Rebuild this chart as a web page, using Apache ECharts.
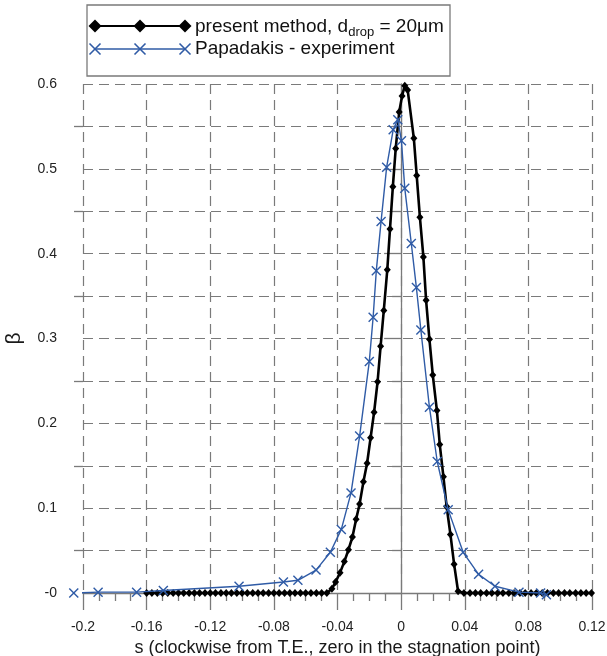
<!DOCTYPE html>
<html><head><meta charset="utf-8">
<script src="https://cdn.jsdelivr.net/npm/echarts@6/dist/echarts.min.js"></script>
<style>html,body{margin:0;padding:0;background:#fff}#c{width:607px;height:656px}</style>
</head><body><div id="c"></div>
<script>
// ---- data ----
const presentS = [-0.160,-0.1567,-0.1533,-0.150,-0.1467,-0.1433,-0.140,-0.1367,-0.1333,-0.130,-0.1267,-0.1233,-0.120,-0.1167,-0.1133,-0.110,-0.1067,-0.1033,-0.100,-0.0967,-0.0933,-0.090,-0.0867,-0.0833,-0.080,-0.0767,-0.0733,-0.070,-0.0667,-0.0633,-0.060,-0.0567,-0.0533,-0.050,-0.0467,
 -0.0435,-0.0412,-0.0384,-0.0357,-0.0331,-0.0306,-0.0283,-0.0261,-0.0237,-0.0214,-0.0192,-0.0170,-0.0148,-0.0129,-0.0109,-0.0087,-0.0070,-0.0052,-0.0034,-0.0012,0.0006,0.0023,0.0041,
 0.0080,0.0098,0.0118,0.0140,0.0157,0.0178,0.0199,0.0225,0.0243,0.0266,0.0286,0.0310,0.0333,0.0358,
 0.0395,0.0433,0.0467,0.050,0.0537,0.057,0.0607,0.064,0.0677,0.071,0.0747,0.078,0.0817,0.085,0.0887,0.092,0.0957,0.099,0.1027,0.106,0.1097,0.113,0.1163,0.1197];
const presentBeta = [0,0,0,0,0,0,0,0,0,0,0,0,0,0,0,0,0,0,0,0,0,0,0,0,0,0,0,0,0,0,0,0,0,0,0,
 0.005,0.013,0.024,0.037,0.051,0.066,0.087,0.105,0.131,0.153,0.183,0.213,0.249,0.291,0.333,0.381,0.429,0.479,0.524,0.567,0.586,0.598,0.593,
 0.536,0.492,0.443,0.396,0.345,0.299,0.257,0.215,0.175,0.137,0.102,0.069,0.034,0.002,
 0,0,0,0,0,0,0,0,0,0,0,0,0,0,0,0,0,0,0,0,0,0,0,0];
const papS = [-0.2058,-0.1905,-0.1663,-0.1495,-0.1019,-0.0740,-0.0649,-0.0535,-0.0445,-0.0376,-0.0315,-0.0261,-0.0200,-0.0176,-0.0156,-0.0126,-0.0091,-0.0050,-0.0021,0.0002,0.0023,0.0064,0.0096,0.0124,0.0178,0.0227,0.0296,0.0390,0.0487,0.0590,0.0741,0.0877,0.0913];
const papBeta = [0.000,0.001,0.001,0.003,0.008,0.013,0.015,0.027,0.048,0.075,0.118,0.185,0.273,0.325,0.380,0.438,0.502,0.546,0.558,0.533,0.477,0.412,0.360,0.310,0.219,0.155,0.098,0.048,0.022,0.008,0.001,0.000,-0.002];
const xTicks = {min:-0.2, max:0.12, step:0.04};
const yTicks = {min:0, max:0.6, step:0.1};
const seriesNames = ['present method, d{s|drop} = 20\u03bcm', 'Papadakis - experiment'];
const xTitle = 's (clockwise from T.E., zero in the stagnation point)';
const yTitle = '\u03b2';

const BLUE = '#2f5ba6';
const GRID = '#7a7a7a';
const crossPath = 'path://M1,0 L5,4 L9,0 L10,1 L6,5 L10,9 L9,10 L5,6 L1,10 L0,9 L4,5 L0,1 Z';
const zip = (a,b)=>a.map((v,i)=>[v,b[i]]);
const font = 'Arial, "Liberation Sans", sans-serif';

const chart = echarts.init(document.getElementById('c'), null, {renderer:'canvas'});
const dash = {type:[10,6], color:GRID, width:1.2};

function diamond(cx, cy, r){ return {type:'polygon', shape:{points:[[cx,cy-r],[cx+r,cy],[cx,cy+r],[cx-r,cy]]}, style:{fill:'#000'}}; }
function cross(cx, cy, r){ return {type:'group', children:[
  {type:'line', shape:{x1:cx-r,y1:cy-r,x2:cx+r,y2:cy+r}, style:{stroke:BLUE,lineWidth:1.6}},
  {type:'line', shape:{x1:cx+r,y1:cy-r,x2:cx-r,y2:cy+r}, style:{stroke:BLUE,lineWidth:1.6}}]}; }

const lx = [95,140,185];
chart.setOption({
  animation:false,
  grid:{left:83, right:15, top:84, bottom:63, containLabel:false, outerBoundsMode:'none'},
  xAxis:{type:'value', min:xTicks.min, max:xTicks.max, interval:xTicks.step,
    name:xTitle, nameLocation:'middle', nameGap:45,
    nameTextStyle:{fontFamily:font, fontSize:18, color:'#1a1a1a'},
    axisLine:{show:true, onZero:false, lineStyle:{color:GRID, width:1.3}},
    axisTick:{show:true, inside:false, length:17, lineStyle:{color:GRID, width:1.3}},
    minorTick:{show:true, splitNumber:4, length:8, lineStyle:{color:GRID, width:1.3}},
    axisLabel:{fontFamily:font, fontSize:14, color:'#222', margin:27,
      formatter:v=>{const r=Math.round(v*100)/100; return r===0?'0':String(r);}},
    splitLine:{show:true, lineStyle:dash}},
  yAxis:[{type:'value', min:yTicks.min, max:yTicks.max, interval:yTicks.step,
    name:yTitle, nameLocation:'middle', nameGap:58, nameRotate:90,
    nameTextStyle:{fontFamily:font, fontSize:21, color:'#1a1a1a'},
    axisLine:{show:true, lineStyle:{color:GRID, width:1.3}},
    axisTick:{show:true, length:17, lineStyle:{color:GRID, width:1.3}},
    minorTick:{show:true, splitNumber:2, length:9, lineStyle:{color:GRID, width:1.3}},
    axisLabel:{fontFamily:font, fontSize:14, color:'#222', margin:26,
      formatter:v=>{const r=Math.round(v*10)/10; return r===0?'-0':r.toFixed(1);}},
    splitLine:{show:true, lineStyle:dash},
    minorSplitLine:{show:true, lineStyle:dash}},
   {type:'value', min:yTicks.min, max:yTicks.max, interval:yTicks.step, position:'left',
    axisLine:{show:false}, axisLabel:{show:false}, axisTick:{show:false}, splitLine:{show:false},
    minorTick:{show:true, splitNumber:2, length:9, inside:true, lineStyle:{color:GRID, width:1.3}}}],
  series:[
    {type:'line', name:'present', data:zip(presentS,presentBeta), symbol:'diamond', symbolSize:[7,8],
      lineStyle:{color:'#000', width:2.6}, itemStyle:{color:'#000'}, z:3, clip:false},
    {type:'line', name:'pap', data:zip(papS,papBeta), symbol:crossPath, symbolSize:10, clip:false,
      lineStyle:{color:BLUE, width:1.4}, itemStyle:{color:BLUE}, z:4}
  ],
  graphic:[{type:'group', x:0, y:0, children:[
    {type:'rect', shape:{x:87,y:5,width:363,height:71}, style:{fill:'#fff', stroke:GRID, lineWidth:1.3}},
    {type:'line', shape:{x1:lx[0],y1:26,x2:lx[2],y2:26}, style:{stroke:'#000', lineWidth:2.2}},
    ...lx.map(x=>diamond(x,26,6.5)),
    {type:'line', shape:{x1:lx[0],y1:49,x2:lx[2],y2:49}, style:{stroke:BLUE, lineWidth:1.4}},
    ...lx.map(x=>cross(x,49,5.5)),
    {type:'text', x:195, y:27, style:{text:seriesNames[0], fontFamily:font, fontSize:19, fill:'#111', verticalAlign:'middle',
      rich:{s:{fontFamily:font, fontSize:13, fill:'#111', padding:[10,0,0,0]}}}},
    {type:'text', x:195, y:49, style:{text:seriesNames[1], fontFamily:font, fontSize:19, fill:'#111', verticalAlign:'middle'}}
  ]}]
});
</script></body></html>
